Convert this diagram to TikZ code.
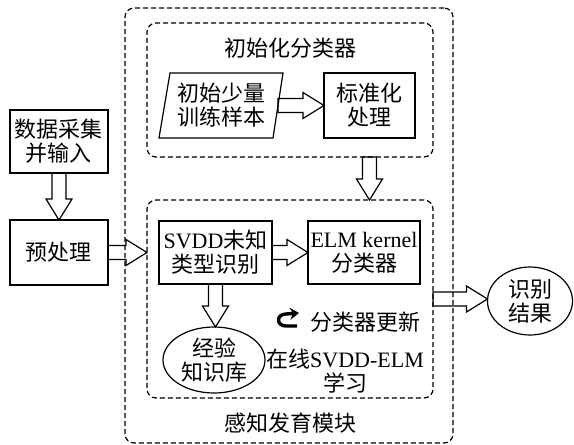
\documentclass[tikz,border=0pt]{standalone}
\usepackage{fontspec}
\setmainfont{Liberation Serif}
\newfontfamily\cjk{Noto Sans CJK SC}
\usetikzlibrary{calc,shapes.geometric,arrows.meta}
\newcommand\zhtext[1]{{\cjk #1}}

\tikzset{
  txt/.style={font=\fontsize{22}{24}\selectfont\cjk, align=center, inner sep=0pt, outer sep=0pt},
  mixed/.style={txt, font=\fontsize{22}{24}\selectfont\rmfamily},
  box/.style={txt, draw, line width=1.2pt},
  frame/.style={draw, line width=1.2pt, dash pattern=on 5pt off 3pt, rounded corners=9pt, inner sep=0pt, outer sep=0pt},
  % hollow block arrow, pointing right, drawn between two points
  harrow/.style={draw, line width=1.2pt, to path={let \p1=(\tikztostart), \p2=(\tikztotarget) in
      (\x1,\y1+7pt) -- (\x2-21pt,\y1+7pt) -- (\x2-21pt,\y1+13pt) -- (\x2,\y1)
      -- (\x2-21pt,\y1-13pt) -- (\x2-21pt,\y1-7pt) -- (\x1,\y1-7pt) -- cycle}},
  % hollow block arrow, pointing down
  varrow/.style={draw, line width=1.2pt, to path={let \p1=(\tikztostart), \p2=(\tikztotarget) in
      (\x1-7pt,\y1) -- (\x1-7pt,\y2+21pt) -- (\x1-13pt,\y2+21pt) -- (\x1,\y2)
      -- (\x1+13pt,\y2+21pt) -- (\x1+7pt,\y2+21pt) -- (\x1+7pt,\y1) -- cycle}}
}

\begin{document}
\begin{tikzpicture}[x=1pt,y=-1pt]
\useasboundingbox (0,0) rectangle (574,445);

% dashed module frames
\node[frame, minimum width=328, minimum height=435] (outer) at (289,225.5) {};
\node[frame, minimum width=286, minimum height=134] (init) at (290,90) {};
\node[frame, minimum width=286, minimum height=198] (learn) at (290,299) {};
\node[txt] (inittitle) at (290,48) {初始化分类器};
\node[txt] (outertitle) at (290,423) {感知发育模块};

% input side
\node[box, minimum width=98, minimum height=63] (data) at (59,141.5) {数据采集\\并输入};
\node[box, minimum width=98, minimum height=65] (pre) at (59,252.5) {预处理};

% initial classifier
\node[txt, minimum width=114, minimum height=65] (sample) at (221,105.5) {初始少量\\训练样本};
\draw[line width=1.2pt] ($(sample.south west)+(-5,0)$) -- ($(sample.north west)+(6,0)$)
  -- ($(sample.north east)+(5,0)$) -- ($(sample.south east)+(-5,0)$) -- cycle;
\node[box, minimum width=91, minimum height=65] (std) at (369.5,105.5) {标准化\\处理};

% online learning
\node[box, mixed, minimum width=113, minimum height=63] (svdd) at (215.5,252.5) {SVDD\zhtext{未知}\\\zhtext{类型识别}};
\node[box, mixed, minimum width=112, minimum height=63] (elm) at (364,252.5) {ELM kernel\\\zhtext{分类器}};
\node[txt, draw, ellipse, line width=1.2pt, minimum width=102, minimum height=66] (kb) at (214,360) {经验\\知识库};
\node[txt] (upd) at (365,322) {分类器更新};
\node[mixed] (online) at (345,371) {\zhtext{在线}SVDD-ELM\\\zhtext{学习}};

% output
\node[txt, draw, ellipse, line width=1.2pt, minimum width=85, minimum height=68] (res) at (530,301) {识别\\结果};

% block arrows
\draw[varrow] (data.south) to (pre.north);
\draw[harrow] (pre.east) to (pre.east -| learn.west);
\draw[harrow] (sample.east) to (std.west);
\draw[varrow] (std.south |- init.south) to (std.south |- learn.north);
\draw[harrow] (svdd.east) to (elm.west);
\draw[varrow] (svdd.south) to (kb.north);
\draw[harrow] (learn.east) to (res.west);

% update loop mark
\draw[line width=3.4pt, -{Stealth[length=9pt,width=12pt]}]
  (297,326) -- (286,326) .. controls (276,326) and (276,314) .. (286,314) -- (299,313);
\end{tikzpicture}
\end{document}
